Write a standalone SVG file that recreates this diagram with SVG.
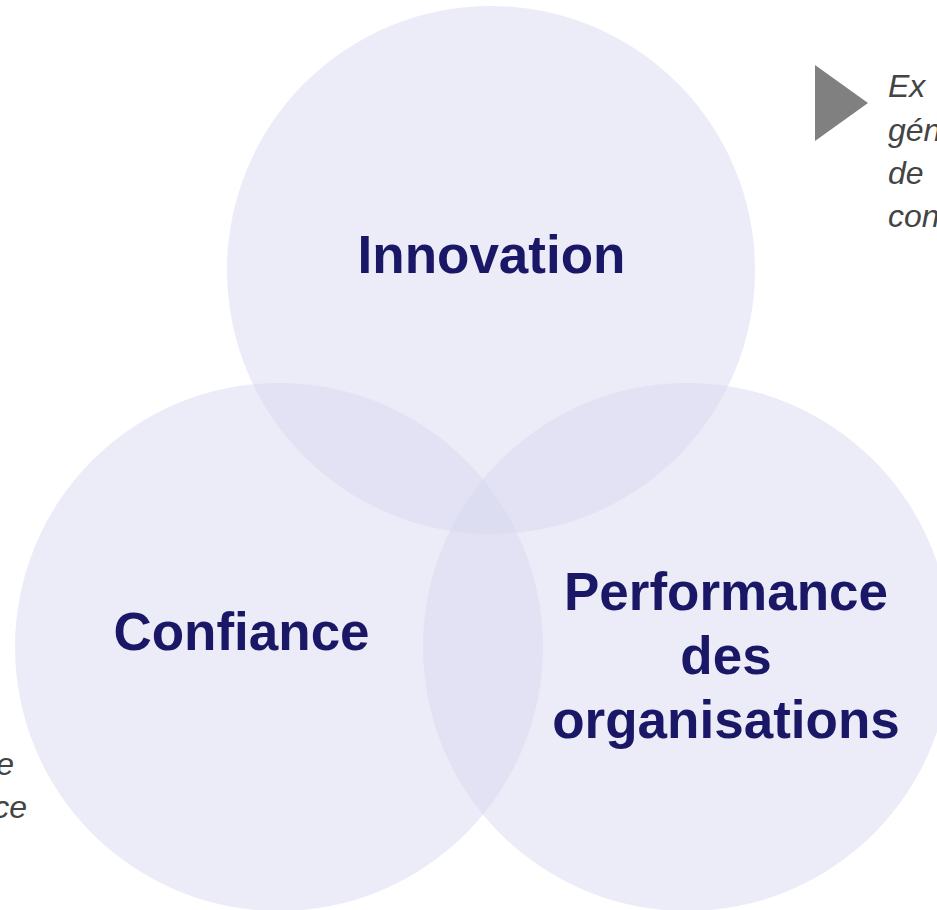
<svg xmlns="http://www.w3.org/2000/svg" width="937" height="910" viewBox="0 0 937 910">
<style>
.c{fill:#d7d7f0;fill-opacity:0.47}
.t{font-family:"Liberation Sans",Arial,sans-serif;font-weight:bold;font-size:53px;fill:#1a1866;text-anchor:middle}
.n{font-family:"Liberation Sans",Arial,sans-serif;font-style:italic;font-size:32px;fill:#444}
</style>
<rect width="937" height="910" fill="#fff"/>
<g id="innovation"><circle class="c" cx="491" cy="270" r="264"/><text class="t" x="491.5" y="273">Innovation</text></g>
<g id="confiance"><circle class="c" cx="279" cy="647" r="264"/><text class="t" x="241.5" y="650">Confiance</text></g>
<g id="performance"><circle class="c" cx="687" cy="647" r="264"/><text class="t" x="726" y="610">Performance</text><text class="t" x="726" y="674">des</text><text class="t" x="726" y="738">organisations</text></g>
<g id="note-top"><polygon points="815,65 868,103 815,141" fill="#808080"/>
<text class="n" x="888" y="97">Ex</text><text class="n" x="888" y="141">gén</text><text class="n" x="888" y="184">de</text><text class="n" x="888" y="227">con</text></g>
<g id="note-left"><text class="n" x="14" y="775" text-anchor="end">e</text><text class="n" x="27" y="818" text-anchor="end">ce</text></g>
<g id="connectors"/>
</svg>
